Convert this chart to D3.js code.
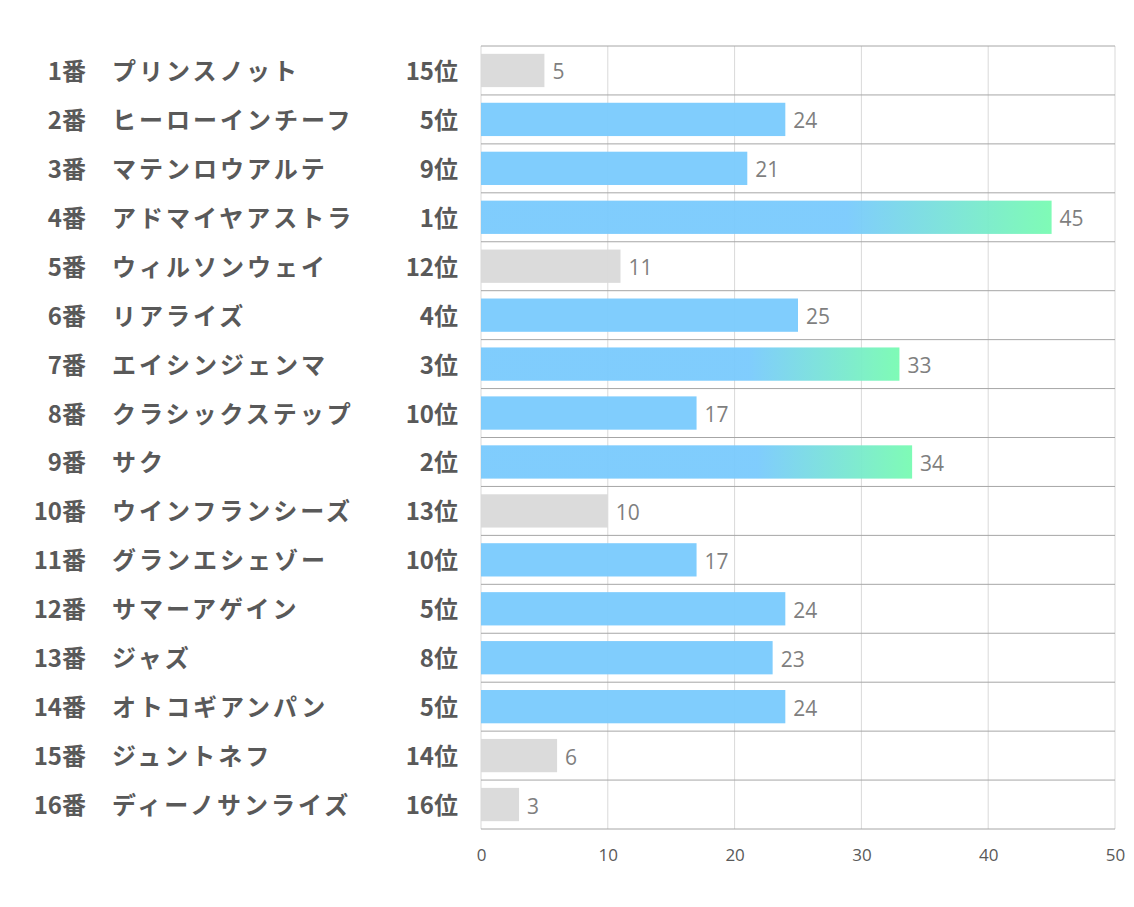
<!DOCTYPE html>
<html><head><meta charset="utf-8">
<script src="https://cdn.jsdelivr.net/npm/d3@7"></script>
<style>body{margin:0;background:#fff}</style></head>
<body><svg id="c" width="1134" height="907"></svg>
<script>
const numbers = ["1番","2番","3番","4番","5番","6番","7番","8番","9番","10番","11番","12番","13番","14番","15番","16番"];
const names = ["プリンスノット","ヒーローインチーフ","マテンロウアルテ","アドマイヤアストラ","ウィルソンウェイ","リアライズ","エイシンジェンマ","クラシックステップ","サク","ウインフランシーズ","グランエシェゾー","サマーアゲイン","ジャズ","オトコギアンパン","ジュントネフ","ディーノサンライズ"];
const ranks = ["15位","5位","9位","1位","12位","4位","3位","10位","2位","13位","10位","5位","8位","5位","14位","16位"];
const values = [5,24,21,45,11,25,33,17,34,10,17,24,23,24,6,3];
const tiers = ["low","mid","mid","top","low","mid","top","mid","top","low","mid","mid","mid","mid","low","low"];
const xTicks = [0,10,20,30,40,50];

(function(){
const svg = d3.select("#c");
const pL = 481, pR = 1115, pT = 46, pB = 829;
const x = d3.scaleLinear().domain([0,50]).range([pL,pR]);
const y = d3.scaleBand().domain(d3.range(values.length)).range([pT,pB]).paddingInner(0.32).paddingOuter(0.16);
const yRow = d3.scaleBand().domain(d3.range(values.length)).range([pT,pB]);

const defs = svg.append("defs");
const grad = defs.append("linearGradient").attr("id","g").attr("x1","0").attr("x2","1").attr("y1","0").attr("y2","0");
grad.append("stop").attr("offset","0").attr("stop-color","#79cafd");
grad.append("stop").attr("offset","0.64").attr("stop-color","#79cafd");
grad.append("stop").attr("offset","1").attr("stop-color","#78fbb2");

svg.append("g").selectAll("line").data(xTicks).join("line")
  .attr("x1",d=>x(d)).attr("x2",d=>x(d)).attr("y1",pT).attr("y2",pB)
  .attr("stroke","#d9d9d9").attr("stroke-width",1);
svg.append("g").selectAll("line").data(d3.range(values.length+1)).join("line")
  .attr("x1",pL).attr("x2",pR)
  .attr("y1",i=>pT+i*yRow.step()).attr("y2",i=>pT+i*yRow.step())
  .attr("stroke","#a6a6a6").attr("stroke-width",1);

const color = t => t==="low" ? "#d9d9d9" : t==="top" ? "url(#g)" : "#79cafd";
svg.append("g").selectAll("rect").data(values).join("rect")
  .attr("x",x(0)).attr("y",(d,i)=>y(i)).attr("width",d=>x(d)-x(0)).attr("height",y.bandwidth())
  .attr("fill",(d,i)=>color(tiers[i])).attr("fill-opacity",0.95);

svg.append("g").selectAll("text").data(values).join("text")
  .attr("x",d=>x(d)+8).attr("y",(d,i)=>yRow(i)+yRow.step()/2+1)
  .attr("dominant-baseline","central")
  .attr("font-family","'Open Sans','Noto Sans',sans-serif").attr("font-size",21).attr("fill","#7f7f7f")
  .text(d=>d);

const lab = svg.append("g").attr("font-family","'Noto Sans CJK JP',sans-serif").attr("font-weight","bold").attr("font-size",24).attr("fill","#595959");
lab.selectAll(".n").data(numbers).join("text").attr("class","n")
  .attr("x",86).attr("y",(d,i)=>yRow(i)+yRow.step()/2-1).attr("dominant-baseline","central").attr("text-anchor","end").text(d=>d);
lab.selectAll(".m").data(names).join("text").attr("class","m")
  .attr("x",112).attr("y",(d,i)=>yRow(i)+yRow.step()/2-1).attr("dominant-baseline","central")
  .attr("letter-spacing","3px").text(d=>d);
lab.selectAll(".r").data(ranks).join("text").attr("class","r")
  .attr("x",458).attr("y",(d,i)=>yRow(i)+yRow.step()/2-1).attr("dominant-baseline","central").attr("text-anchor","end").text(d=>d);

const ax = svg.append("g").attr("transform",`translate(0,${pB})`)
  .call(d3.axisBottom(x).tickValues(xTicks).tickSize(0).tickPadding(20));
ax.select(".domain").remove();
ax.selectAll("text").attr("font-family","'Open Sans','Noto Sans',sans-serif").attr("font-size",17).attr("fill","#595959");
})();
</script></body></html>
